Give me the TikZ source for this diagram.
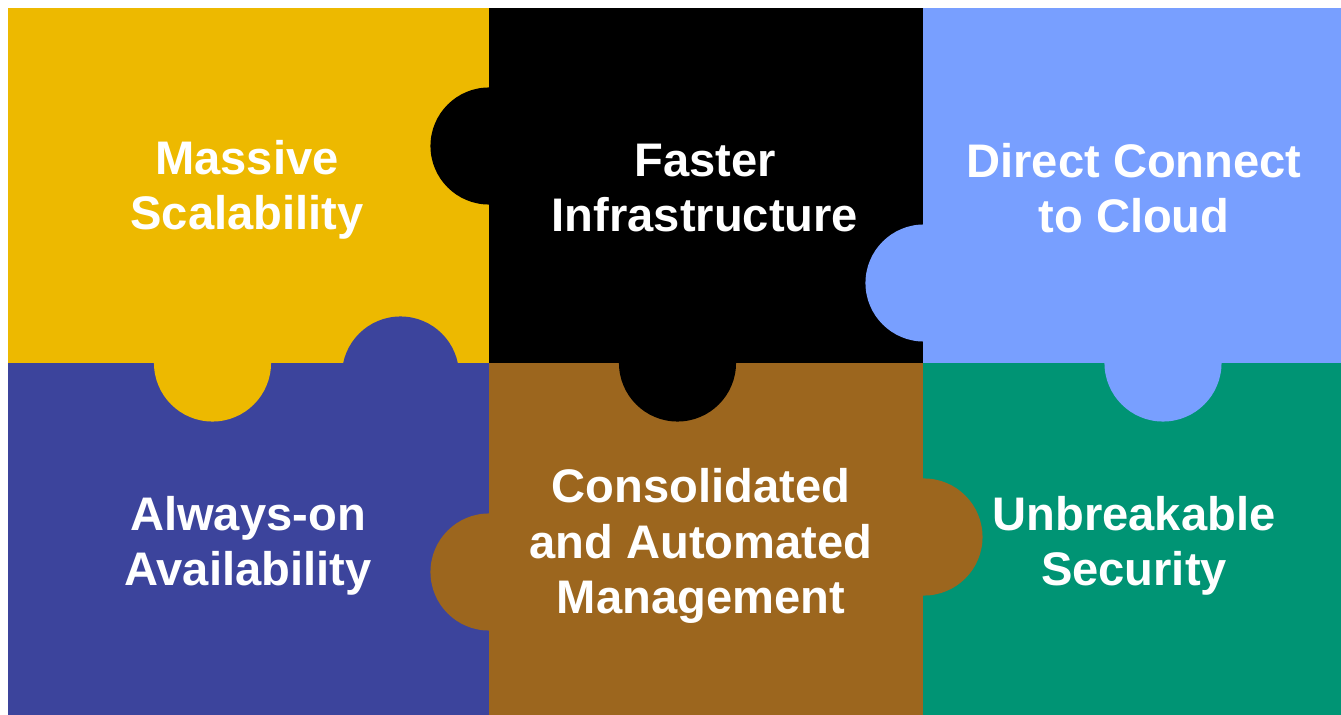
\documentclass[tikz,border=0pt]{standalone}
\usepackage{fontspec}
\setmainfont{Liberation Sans}
\definecolor{pzYellow}{RGB}{237,185,0}
\definecolor{pzBlue}{RGB}{120,159,255}
\definecolor{pzIndigo}{RGB}{60,68,156}
\definecolor{pzBrown}{RGB}{156,102,30}
\definecolor{pzGreen}{RGB}{0,148,116}
\tikzset{
    piece text/.style={text=white, align=center, inner sep=0pt,
        font=\fontsize{13.4}{15.8}\selectfont\bfseries},
}
\begin{document}
\begin{tikzpicture}[x=0.01cm, y=-0.01cm]
    \def \R {0.585cm}
    \useasboundingbox (0,0) rectangle (1341,715);
    % the six pieces
    \fill[pzYellow] (8,8) rectangle (489,363);
    \fill[black] (489,8) rectangle (923,363);
    \fill[pzBlue] (923,8) rectangle (1341,363);
    \fill[pzIndigo] (8,363) rectangle (489,715);
    \fill[pzBrown] (489,363) rectangle (923,715);
    \fill[pzGreen] (923,363) rectangle (1341,715);
    % tabs
    \fill[black] (489,146) circle[radius=\R];
    \fill[pzBlue] (924,283) circle[radius=\R];
    \fill[pzYellow] (212.5,363) circle[radius=\R];
    \fill[pzIndigo] (400.5,375) circle[radius=\R];
    \fill[black] (677.5,363) circle[radius=\R];
    \fill[pzBlue] (1163,363) circle[radius=\R];
    \fill[pzBrown] (489,572) circle[radius=\R];
    \fill[pzBrown] (924,537) circle[radius=\R];
    % texts
    \node[piece text] (scal) at (247,190) {Massive\\Scalability};
    \node[piece text] (infra) at (705,188) {Faster\\Infrastructure};
    \node[piece text] (cloud) at (1134,188) {Direct Connect\\to Cloud};
    \node[piece text] (avail) at (248,546) {Always-on\\Availability};
    \node[piece text] (mgmt) at (701,546) {Consolidated\\and Automated\\Management};
    \node[piece text] (secur) at (1134,546) {Unbreakable\\Security};
\end{tikzpicture}
\end{document}
